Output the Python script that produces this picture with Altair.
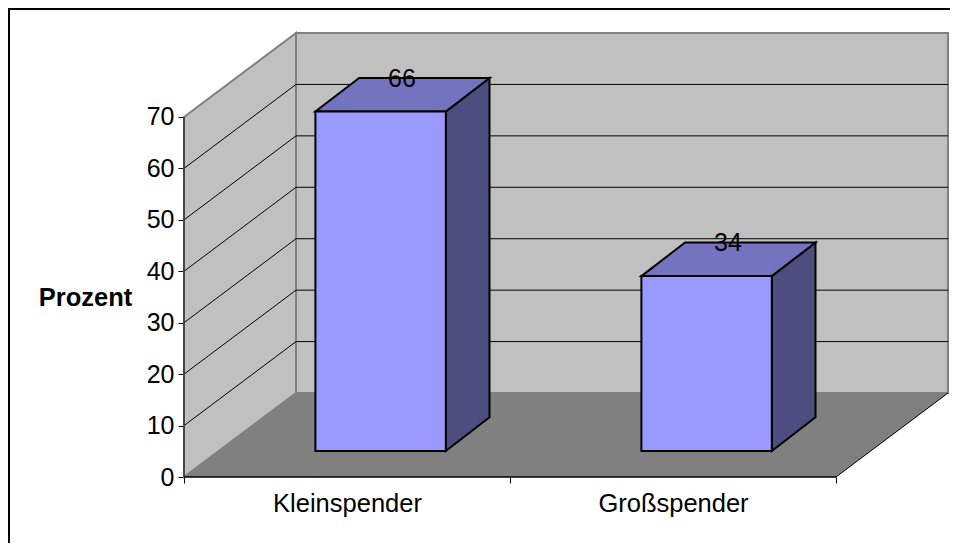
import altair as alt
import pandas as pd

categories = ["Kleinspender", "Großspender"]
values = [66, 34]
y_ticks = [0, 10, 20, 30, 40, 50, 60, 70]
grid_values = [10, 20, 30, 40, 50, 60]

# oblique projection of the depth axis, in data units
DX, DY = 0.3436, 16.33
BAR_AX0, BAR_AX1 = 0.30, 0.69
BAR_DY0, BAR_DY1 = 0.31, 0.71
X_DOMAIN = [-0.5399, 2.3497]
Y_DOMAIN = [-12.83, 91.19]
W, H = 942, 535
FONT = "Liberation Sans"

label_expr = (
    f"datum.value == 0.5 ? '{categories[0]}' : datum.value == 1.5 ? '{categories[1]}' : ''"
)
X_AXIS = alt.Axis(
    values=[0, 0.5, 1, 1.5, 2], offset=-66, domain=False, grid=False, title=None,
    tickSize=6, tickColor="black",
    tickOpacity={"condition": {"test": "datum.value % 1 == 0", "value": 1}, "value": 0},
    labelExpr=label_expr, labelFont=FONT, labelFontSize=25.5, labelColor="black",
    labelPadding=8, labelOverlap=False, labelFlush=False, labelBound=False,
)
Y_AXIS = alt.Axis(
    values=y_ticks, offset=-176, domain=False, grid=False,
    tickSize=6, tickColor="black", labelFont=FONT, labelFontSize=25, labelColor="black",
    labelPadding=4, labelOverlap=False, labelFlush=False, labelBound=False,
    title="Prozent", titleFont=FONT, titleFontSize=25.5, titleFontWeight="bold", titleColor="black",
    titleAngle=0, titleAlign="center", titleBaseline="middle", titleX=-99, titleY=289,
)


def sx():
    return alt.X("x:Q", scale=alt.Scale(domain=X_DOMAIN, nice=False, zero=False), axis=X_AXIS)


def sy():
    return alt.Y("y:Q", scale=alt.Scale(domain=Y_DOMAIN, nice=False, zero=False), axis=Y_AXIS)


def vface(xs, ys, y2s, fill, stroke=None, sw=2):
    df = pd.DataFrame({"x": xs, "y": ys, "y2": y2s})
    kw = {"stroke": stroke, "strokeWidth": sw, "strokeJoin": "miter"} if stroke else {}
    return alt.Chart(df).mark_area(fill=fill, opacity=1, **kw).encode(x=sx(), y=sy(), y2=alt.Y2("y2:Q", title=None))


def hface(ys, xs, x2s, fill, stroke=None, sw=2):
    df = pd.DataFrame({"x": xs, "y": ys, "x2": x2s})
    kw = {"stroke": stroke, "strokeWidth": sw, "strokeJoin": "miter"} if stroke else {}
    return alt.Chart(df).mark_area(fill=fill, opacity=1, orient="horizontal", **kw).encode(
        x=sx(), x2=alt.X2("x2:Q", title=None), y=sy())


def line(xs, ys, color="black", sw=1):
    df = pd.DataFrame({"x": xs, "y": ys, "i": range(len(xs))})
    return alt.Chart(df).mark_line(color=color, strokeWidth=sw).encode(x=sx(), y=sy(), order="i:Q")


layers = []

# walls and floor
layers.append(vface([0, DX], [0, DY], [70, 70 + DY], "#C0C0C0", "#808080", 2))
layers.append(vface([DX, 2 + DX], [DY, DY], [70 + DY, 70 + DY], "#C0C0C0", "#808080", 2))
layers.append(hface([0, DY], [0, DX], [2, 2 + DX], "#808080"))

# gridlines on both walls
for v in grid_values:
    layers.append(line([0, DX, 2 + DX], [v, v + DY, v + DY]))

# axis lines and floor edge
layers.append(line([0, 0], [0, 70], "#333333", 1.5))
layers.append(line([0, 2], [0, 0], "black", 1.5))
layers.append(line([2, 2 + DX], [0, DY], "black", 1))

# bars
for i, v in enumerate(values):
    x0, x1 = i + 0.3, i + 0.7
    a0, a1 = BAR_AX0 * DX, BAR_AX1 * DX
    b0, b1 = BAR_DY0 * DY, BAR_DY1 * DY
    layers.append(vface([x1 + a0, x1 + a1], [b0, b1], [v + b0, v + b1], "#4D4D80", "black"))
    layers.append(hface([v + b0, v + b1], [x0 + a0, x0 + a1], [x1 + a0, x1 + a1], "#7373BF", "black"))
    layers.append(vface([x0 + a0, x1 + a0], [b0, b0], [v + b0, v + b0], "#9999FF", "black"))

# value labels
label_df = pd.DataFrame({
    "x": [i + 0.5 + 0.49 * DX for i in range(len(values))],
    "y": [v + 0.51 * DY for v in values],
    "t": [str(v) for v in values],
})
layers.append(
    alt.Chart(label_df).mark_text(font=FONT, fontSize=25, color="black", baseline="middle", dy=-16)
    .encode(x=sx(), y=sy(), text="t:N")
)

# outer frame (top and left edges fall inside the window)
layers.append(alt.Chart(pd.DataFrame({"a": [0]})).mark_rule(color="black", strokeWidth=2).encode(
    x=alt.value(1), y=alt.value(0), y2=alt.value(H)))
layers.append(alt.Chart(pd.DataFrame({"a": [0]})).mark_rule(color="black", strokeWidth=2).encode(
    y=alt.value(1), x=alt.value(0), x2=alt.value(W)))

chart = alt.layer(*layers).properties(
    width=W, height=H, padding=0, background="white", autosize=alt.AutoSizeParams(type="none")
).configure_view(stroke=None)

chart.save("out.html", embed_options={"renderer": "svg", "actions": False})
